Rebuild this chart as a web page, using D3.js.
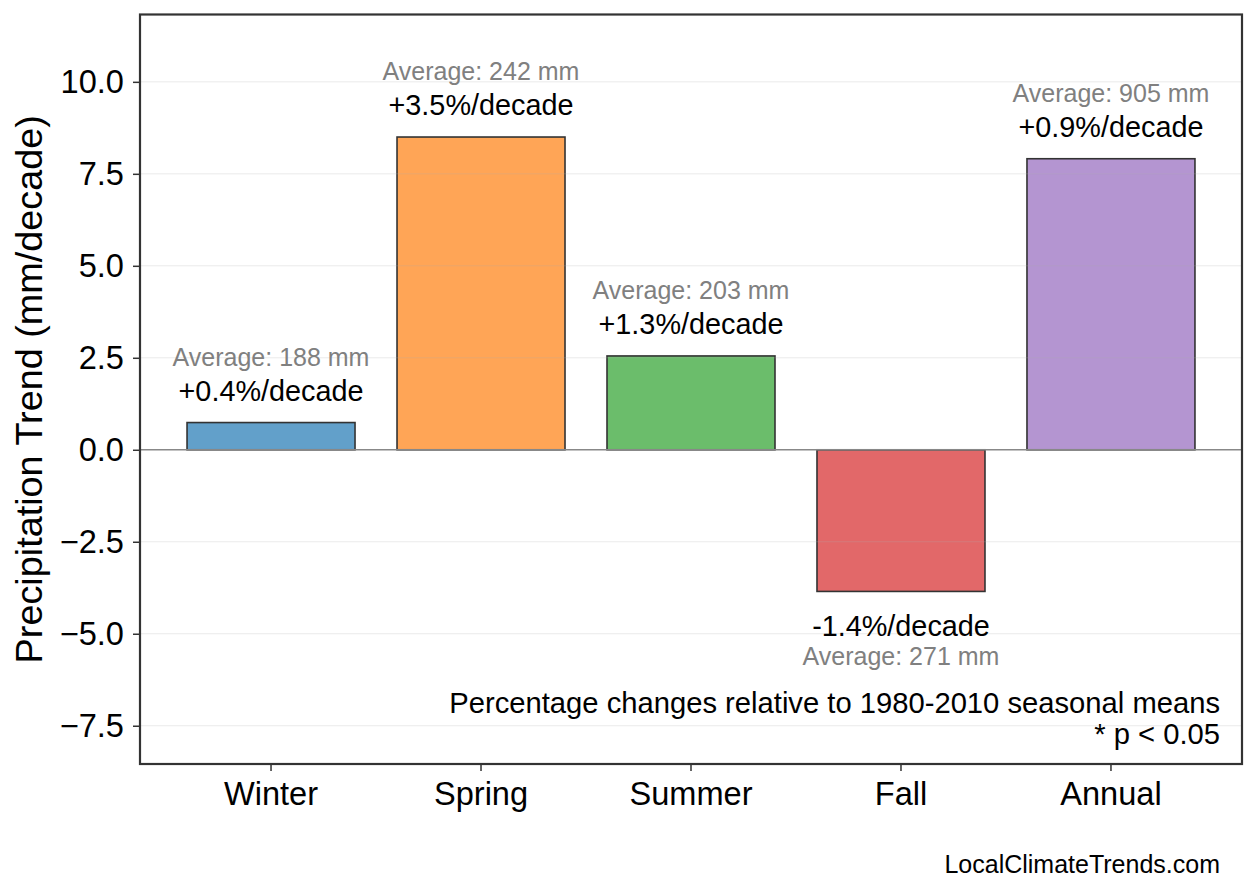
<!DOCTYPE html>
<html>
<head>
<meta charset="utf-8">
<script src="https://cdn.jsdelivr.net/npm/d3@7"></script>
<style>
  body { margin: 0; background: #fff; }
  svg text { font-family: "Liberation Sans", Arial, Helvetica, sans-serif; }
</style>
</head>
<body>
<div id="wrapper"></div>
<script>
// data
const seasons = ["Winter", "Spring", "Summer", "Fall", "Annual"]
const trends = [0.74, 8.50, 2.55, -3.85, 7.91]          // mm/decade
const pctLabels = ["+0.4%/decade", "+3.5%/decade", "+1.3%/decade", "-1.4%/decade", "+0.9%/decade"]
const averages = [188, 242, 203, 271, 905]               // mm
const barColors = ["#62a0ca", "#ffa556", "#6bbd6b", "#e26869", "#b495d1"]
const yTicks = [-7.5, -5.0, -2.5, 0.0, 2.5, 5.0, 7.5, 10.0]
const yDomain = [-8.54, 11.83]

const dataset = seasons.map((s, i) => ({
    season: s, trend: trends[i], pct: pctLabels[i], avg: averages[i], color: barColors[i]
}))

let dimensions = {
    width: 1258,
    height: 893,
    margin: { top: 14.5, right: 16, bottom: 129, left: 140 },
}
dimensions.boundedWidth = dimensions.width - dimensions.margin.left - dimensions.margin.right
dimensions.boundedHeight = dimensions.height - dimensions.margin.top - dimensions.margin.bottom

const svg = d3.select("#wrapper")
    .append("svg")
        .attr("width", dimensions.width)
        .attr("height", dimensions.height)

const bounds = svg.append("g")
    .attr("transform", `translate(${dimensions.margin.left},${dimensions.margin.top})`)

// scales
const xScale = d3.scaleBand()
    .domain(seasons)
    .range([0, dimensions.boundedWidth])
    .paddingInner(0.2)
    .paddingOuter(0.224)

const yScale = d3.scaleLinear()
    .domain(yDomain)
    .range([dimensions.boundedHeight, 0])

// bars
bounds.selectAll("rect.bar")
    .data(dataset)
    .join("rect")
        .attr("class", "bar")
        .attr("x", d => xScale(d.season))
        .attr("width", xScale.bandwidth())
        .attr("y", d => yScale(Math.max(0, d.trend)))
        .attr("height", d => Math.abs(yScale(d.trend) - yScale(0)))
        .attr("fill", d => d.color)
        .attr("stroke", "#333")
        .attr("stroke-width", 1.6)

// light grid drawn on top like the original
bounds.append("g")
    .selectAll("line")
    .data(yTicks.filter(t => t !== 0))
    .join("line")
        .attr("x1", 0)
        .attr("x2", dimensions.boundedWidth)
        .attr("y1", d => yScale(d))
        .attr("y2", d => yScale(d))
        .attr("stroke", "#b0b0b0")
        .attr("stroke-opacity", 0.25)
        .attr("stroke-width", 1)

// zero line
bounds.append("line")
    .attr("x1", 0)
    .attr("x2", dimensions.boundedWidth)
    .attr("y1", yScale(0))
    .attr("y2", yScale(0))
    .attr("stroke", "#888")
    .attr("stroke-width", 1.5)

// labels above / below bars
const labels = bounds.append("g")
labels.selectAll("text.pct")
    .data(dataset)
    .join("text")
        .attr("class", "pct")
        .attr("x", d => xScale(d.season) + xScale.bandwidth() / 2)
        .attr("y", d => d.trend >= 0 ? yScale(d.trend) - 22 : yScale(d.trend) + 45)
        .attr("text-anchor", "middle")
        .style("font-size", "28.8px")
        .attr("fill", "#000")
        .text(d => d.pct)

labels.selectAll("text.avg")
    .data(dataset)
    .join("text")
        .attr("class", "avg")
        .attr("x", d => xScale(d.season) + xScale.bandwidth() / 2)
        .attr("y", d => d.trend >= 0 ? yScale(d.trend) - 57 : yScale(d.trend) + 73.5)
        .attr("text-anchor", "middle")
        .style("font-size", "25px")
        .attr("fill", "#808080")
        .text(d => `Average: ${d.avg} mm`)

// axes
const yAxisGenerator = d3.axisLeft(yScale)
    .tickValues(yTicks)
    .tickFormat(d3.format(".1f"))
    .tickSizeInner(7)
    .tickSizeOuter(0)
    .tickPadding(9)
const yAxis = bounds.append("g").call(yAxisGenerator)

const xAxisGenerator = d3.axisBottom(xScale)
    .tickSizeInner(7)
    .tickSizeOuter(0)
    .tickPadding(9)
const xAxis = bounds.append("g")
    .attr("transform", `translate(0,${dimensions.boundedHeight})`)
    .call(xAxisGenerator)

;[yAxis, xAxis].forEach(ax => {
    ax.select(".domain").remove()
    ax.selectAll(".tick line").attr("stroke", "#333").attr("stroke-width", 1.5)
    ax.selectAll(".tick text")
        .attr("fill", "#000")
        .style("font-size", "32.6px")
        .style("font-family", "'Liberation Sans', Arial, sans-serif")
})
xAxis.selectAll(".tick text").attr("dy", null).attr("y", 41)

// frame
bounds.append("rect")
    .attr("width", dimensions.boundedWidth)
    .attr("height", dimensions.boundedHeight)
    .attr("fill", "none")
    .attr("stroke", "#333")
    .attr("stroke-width", 2.2)

// y axis label
svg.append("text")
    .attr("transform", `translate(42,${dimensions.margin.top + dimensions.boundedHeight / 2}) rotate(-90)`)
    .attr("text-anchor", "middle")
    .style("font-size", "37.8px")
    .attr("fill", "#000")
    .text("Precipitation Trend (mm/decade)")

// footnotes
const noteX = dimensions.margin.left + dimensions.boundedWidth - 22
svg.append("text")
    .attr("x", noteX)
    .attr("y", 713)
    .attr("text-anchor", "end")
    .style("font-size", "29.2px")
    .text("Percentage changes relative to 1980-2010 seasonal means")
svg.append("text")
    .attr("x", noteX)
    .attr("y", 744)
    .attr("text-anchor", "end")
    .style("font-size", "29.2px")
    .text("* p < 0.05")

svg.append("text")
    .attr("x", noteX)
    .attr("y", 873)
    .attr("text-anchor", "end")
    .style("font-size", "25px")
    .text("LocalClimateTrends.com")
</script>
</body>
</html>
